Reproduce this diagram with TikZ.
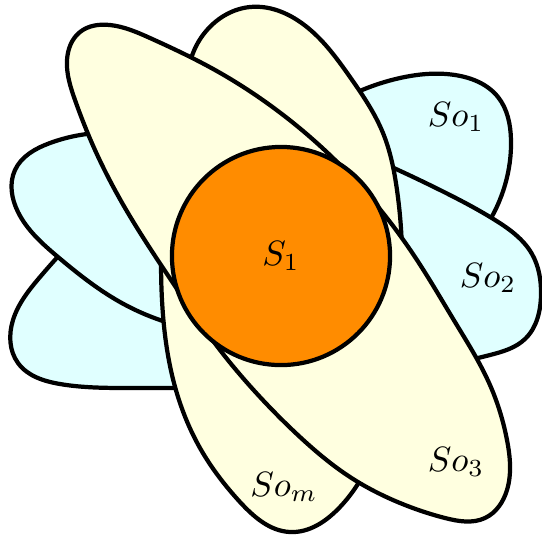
\documentclass[tikz,border=0pt]{standalone}
\usepackage{tikz}
\usetikzlibrary{hobby}

\definecolor{petalcyan}{RGB}{224,255,255}
\definecolor{petalyellow}{RGB}{255,255,224}
\definecolor{coreorange}{RGB}{255,140,0}

\tikzset{
  petal/.style={draw=black, line width=1.2pt, line join=round},
  cyanpetal/.style={petal, fill=petalcyan},
  yellowpetal/.style={petal, fill=petalyellow},
}

\begin{document}
\begin{tikzpicture}[x=0.01cm, y=-0.01cm]
    \useasboundingbox (0,0) rectangle (542,535);

    % Cánh xanh bên trái (phần khuất vẽ bằng đoạn thẳng)
    \draw[cyanpetal] plot[hobby] coordinates {(85,228) (40,277) (13,320) (18,363) (60,384) (130,388) (200,388)}
        -- (240,330) -- (140,250) -- cycle;
    \draw[cyanpetal] plot[hobby] coordinates {(120,133) (50,143) (15,170) (18,212) (58,257) (120,302) (180,326)}
        -- (240,280) -- (160,160) -- cycle;

    % Cánh xanh bên phải
    \draw[cyanpetal] plot[hobby] coordinates {(345,98) (400,78) (455,75) (498,97) (511,140) (505,185) (485,228)}
        -- (440,232) -- (385,215) -- (375,140) -- cycle;
    \draw[cyanpetal] plot[hobby] coordinates {(385,164) (440,190) (495,220) (532,254) (541,295) (525,339) (490,355) (465,361)}
        -- (420,300) -- (385,220) -- cycle;

    % Cánh vàng
    \draw[yellowpetal] plot[hobby] coordinates {(188,75) (207,30) (250,7) (303,24) (350,77) (383,133) (397,190) (402,250)}
        -- (390,350) -- (368,465)
        -- plot[hobby] coordinates {(368,465) (340,507) (290,532) (240,502) (200,448) (172,375) (162,300) (162,230)}
        -- (190,140) -- cycle;
    \draw[yellowpetal] plot[closed hobby] coordinates {(173,283) (128,213) (95,150) (75,100) (67,60) (80,32) (110,25) (150,38) (215,70) (267,103) (333,158) (383,213) (417,260) (455,322) (490,385) (507,440) (507,490) (485,518) (445,518) (400,503) (350,477) (300,437) (260,397) (220,350)};

    % Tâm
    \node[circle, draw, line width=1.2pt, fill=coreorange, minimum size=2.18cm, inner sep=0pt] (s1) at (281,256) {$S_1$};

    % Nhãn các cánh
    \node (so1) at (456,117) {$So_1$};
    \node (so2) at (488,278) {$So_2$};
    \node (so3) at (456,462) {$So_3$};
    \node (som) at (284,487) {$So_m$};
\end{tikzpicture}
\end{document}
